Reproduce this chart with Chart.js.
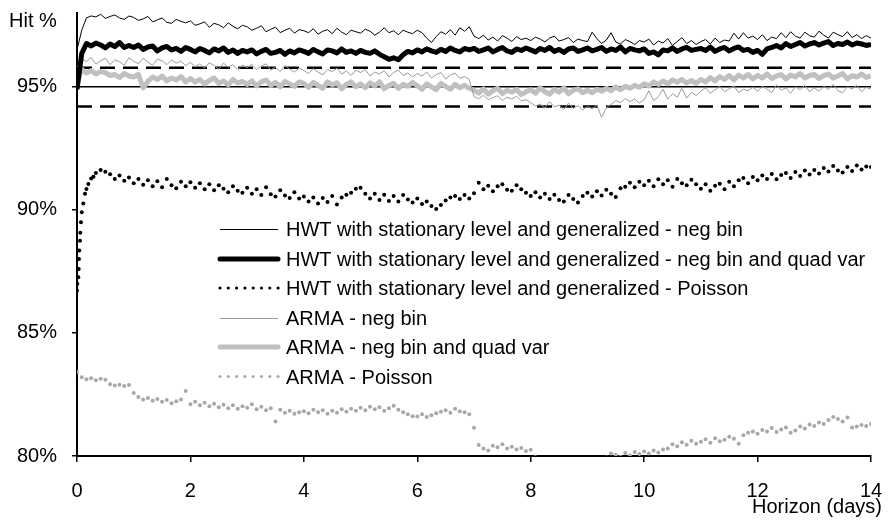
<!DOCTYPE html>
<html>
<head>
<meta charset="utf-8">
<script src="https://cdn.jsdelivr.net/npm/chart.js@4.4.1/dist/chart.umd.min.js"></script>
<style>
  html, body { margin: 0; padding: 0; background: #fff; }
  #wrap { width: 895px; height: 522px; position: relative; }
</style>
</head>
<body>
<div id="wrap"><canvas id="hitChart"></canvas></div>
<script>
// horizon grid: two-hour steps from 0 to 14 days
var horizon = [];
for (var i = 0; i <= 168; i++) horizon.push(i / 12);

var xTicks = [0, 2, 4, 6, 8, 10, 12, 14];
var yTicks = [80, 85, 90, 95];

// reference lines (nominal 95% and the band around it)
var refDays = [0, 14];
var nominal = [95, 95];
var upperBand = [95.78, 95.78];
var lowerBand = [94.2, 94.2];

// HWT with stationary level and generalized - neg bin
var hwtNb = [
  96.5, 97.3, 97.8, 97.88, 97.84, 97.95, 97.78, 97.86, 97.92, 97.8, 97.74, 97.88,
  97.82, 97.7, 97.76, 97.86, 97.64, 97.72, 97.8, 97.62, 97.58, 97.74, 97.66, 97.6,
  97.68, 97.5, 97.56, 97.64, 97.42, 97.58, 97.52, 97.4, 97.6, 97.46, 97.36, 97.5,
  97.44, 97.3, 97.38, 97.48, 97.24, 97.34, 97.42, 97.2, 97.3, 97.38, 97.18, 97.32,
  97.28, 97.2, 97.36, 97.14, 97.26, 97.32, 97.16, 97.38, 97.22, 97.12, 97.3, 97.24,
  97.18, 97.34, 97.26, 97.1, 97.22, 97.4, 97.2, 97.28, 97.12, 97.3, 97.22, 97.16,
  97.3, 97.2, 96.98, 96.8, 97.04, 97.24, 97.14, 97.32, 97.1, 97.4, 97.26, 97.44,
  97.06, 96.96, 97.1, 96.9, 97.02, 96.86, 97.08, 96.98, 96.84, 97.04, 96.92, 96.98,
  96.88, 97.02, 96.94, 96.82, 96.98, 97.06, 96.86, 96.92, 97.0, 96.8, 96.94, 96.88,
  96.84, 97.22, 96.96, 96.76, 96.9, 97.2, 96.82, 96.74, 96.92, 96.84, 96.72, 96.88,
  96.82, 96.94, 96.7, 96.86, 96.78, 96.96, 96.68, 96.84, 97.0, 96.76, 96.88, 96.72,
  96.84, 96.92, 96.74, 96.98, 96.8, 96.9, 96.86, 97.18, 96.94, 97.2, 96.98, 97.06,
  96.92, 97.12, 96.88, 97.02, 96.96, 97.2, 97.0, 97.24, 97.06, 96.98, 97.22, 97.08,
  97.02, 97.26, 97.1, 96.98, 97.22, 97.12, 97.04, 97.24, 97.0, 97.12, 96.96, 97.08,
  96.98
];

// HWT with stationary level and generalized - neg bin and quad var
var hwtNbQv = [
  94.9, 96.35, 96.76, 96.66, 96.78, 96.7, 96.58, 96.74, 96.64, 96.8, 96.6, 96.68,
  96.6, 96.7, 96.52, 96.62, 96.66, 96.46, 96.58, 96.64, 96.5, 96.56, 96.44, 96.6,
  96.52, 96.42, 96.56, 96.48, 96.38, 96.54, 96.46, 96.58, 96.4, 96.5, 96.36, 96.48,
  96.42, 96.5, 96.34, 96.44, 96.52, 96.36, 96.4, 96.48, 96.32, 96.46, 96.38, 96.5,
  96.44, 96.36, 96.52, 96.42, 96.34, 96.5, 96.46, 96.38, 96.54, 96.4, 96.46, 96.36,
  96.48, 96.4, 96.36, 96.46, 96.32, 96.22, 96.12, 96.18, 96.1, 96.3, 96.44, 96.38,
  96.5, 96.42, 96.54, 96.46, 96.4, 96.52, 96.44, 96.58, 96.48, 96.42, 96.56, 96.5,
  96.56, 96.44, 96.5, 96.58, 96.42, 96.52, 96.6, 96.46, 96.4, 96.54, 96.48, 96.58,
  96.5, 96.42, 96.56, 96.48, 96.6, 96.44, 96.52, 96.4, 96.54, 96.58, 96.44, 96.5,
  96.58, 96.46, 96.52, 96.6, 96.44, 96.54, 96.48, 96.62, 96.42, 96.56, 96.5, 96.46,
  96.54, 96.36, 96.42, 96.3, 96.5, 96.46, 96.58, 96.44, 96.54, 96.6, 96.48, 96.52,
  96.56, 96.48, 96.62, 96.44, 96.54, 96.6, 96.46, 96.56, 96.62, 96.48, 96.52, 96.4,
  96.48, 96.32, 96.54, 96.6, 96.68, 96.58, 96.76, 96.64, 96.72, 96.8, 96.66, 96.74,
  96.8, 96.7, 96.78, 96.84, 96.68, 96.76, 96.72, 96.82, 96.7, 96.78, 96.74, 96.68,
  96.72
];

// HWT with stationary level and generalized - Poisson
var hwtPoisEarlyDays = [0.005, 0.023, 0.03, 0.035, 0.04, 0.053, 0.058, 0.07, 0.111, 0.141, 0.2, 0.29];
var hwtPoisEarly = [87.0, 87.26, 87.6, 88.0, 88.35, 88.75, 89.07, 89.5, 90.26, 90.66, 91.05, 91.35];
var hwtPois = [
  86.72, 89.9, 90.85, 91.28, 91.5, 91.62, 91.55, 91.45, 91.26, 91.4, 91.18, 91.32,
  91.08, 91.26, 91.02, 91.2, 90.96, 91.16, 90.92, 91.26, 91.0, 90.88, 91.14, 90.96,
  91.12, 90.9, 91.08, 90.84, 91.04, 90.8, 91.0, 90.86, 90.72, 90.96, 90.78, 90.7,
  90.9, 90.66, 90.84, 90.6, 90.92, 90.64, 90.54, 90.8, 90.58, 90.48, 90.72, 90.46,
  90.54, 90.34, 90.5, 90.26, 90.48, 90.32, 90.56, 90.22, 90.5, 90.62, 90.7, 90.86,
  90.9, 90.66, 90.46, 90.66, 90.4, 90.62, 90.36, 90.56, 90.34, 90.6, 90.42, 90.3,
  90.46, 90.24, 90.34, 90.16, 90.04, 90.2, 90.38, 90.5, 90.56, 90.44, 90.6, 90.46,
  90.68, 91.1, 90.84, 90.98, 90.76, 90.96, 91.04, 90.82, 90.78, 91.0, 90.84, 90.7,
  90.56, 90.72, 90.5, 90.66, 90.44, 90.62, 90.4, 90.34, 90.6, 90.44, 90.3, 90.56,
  90.7, 90.54, 90.76, 90.58, 90.82, 90.66, 90.52, 90.88, 90.94, 91.1, 90.92, 91.14,
  91.0, 91.18, 90.96, 91.24, 91.04, 91.2, 90.94, 91.26, 91.08, 91.0, 91.22, 91.04,
  90.86, 91.04, 90.78, 90.98, 91.06, 90.84, 91.14, 90.96, 91.2, 91.3, 91.08, 91.34,
  91.2, 91.4, 91.26, 91.46, 91.24, 91.42, 91.5, 91.3, 91.54, 91.38, 91.6, 91.44,
  91.62, 91.48, 91.7, 91.56, 91.78, 91.6, 91.52, 91.74, 91.58, 91.8, 91.64, 91.76,
  91.74
];

// ARMA - neg bin
var armaNb = [
  95.8, 96.14, 96.02, 96.2, 95.92, 96.06, 96.16, 95.9, 96.1, 96.02, 95.88, 96.18,
  96.04, 95.94, 96.16, 96.0, 95.88, 96.12, 96.06, 95.9, 96.1, 95.96, 96.04, 95.86,
  96.0, 95.82, 95.94, 95.76, 95.98, 95.86, 95.72, 95.96, 95.8, 95.9, 95.7, 95.88,
  95.78, 95.92, 95.7, 95.84, 95.94, 95.68, 95.8, 95.62, 95.86, 95.72, 95.6, 95.76,
  95.66, 95.54, 95.74, 95.6, 95.48, 95.7, 95.62, 95.76, 95.52, 95.64, 95.46, 95.68,
  95.58, 95.7, 95.44, 95.6, 95.52, 95.66, 95.4, 95.58, 95.68, 95.46, 95.56, 95.4,
  95.54, 95.44, 95.6, 95.36, 95.5, 95.58, 95.32, 95.48, 95.56, 95.34, 95.42, 95.3,
  94.6, 94.52, 94.66, 94.48, 94.56, 94.64, 94.44, 94.58, 94.5, 94.62, 94.42, 94.48,
  94.36, 94.22, 94.3, 94.14, 94.4, 94.18, 94.26, 94.08, 94.34, 94.12, 94.24, 94.06,
  94.2, 94.1, 94.26, 93.76, 94.16, 94.28, 94.44, 94.36, 94.52, 94.4, 94.5, 94.34,
  94.48, 94.84, 94.44, 94.6, 94.9, 94.5, 94.72, 94.58, 94.94, 94.54, 94.78, 94.64,
  94.82, 94.96, 94.74, 94.88, 95.02, 94.8, 94.92, 95.04, 94.76, 94.9, 94.84, 94.98,
  94.82, 95.02, 94.9, 94.76, 95.08, 94.86, 94.96, 94.74, 95.0, 94.88, 95.06, 94.8,
  94.96, 94.82, 95.02, 94.9, 95.1, 94.84, 94.76, 95.0, 94.92, 95.06, 94.8, 94.98,
  94.9
];

// ARMA - neg bin and quad var
var armaNbQv = [
  95.1, 95.72, 95.56, 95.66, 95.52, 95.62, 95.58, 95.46, 95.5, 95.38, 95.54, 95.44,
  95.4, 95.5, 94.96, 95.22, 95.4, 95.3, 95.44, 95.24, 95.36, 95.28, 95.42, 95.2,
  95.34, 95.2, 95.3, 95.12, 95.26, 95.36, 95.14, 95.24, 95.08, 95.3, 95.16, 95.22,
  95.1, 95.24, 95.04, 95.2, 95.28, 95.06, 95.18, 95.0, 95.22, 95.12, 95.02, 95.2,
  95.14, 94.98, 95.18, 95.06, 94.94, 95.2, 95.08, 95.16, 94.92, 95.1, 95.2, 95.0,
  95.12, 94.96, 95.16, 95.04, 95.2, 94.92, 95.06, 95.14, 94.94, 95.1, 95.02, 95.18,
  95.04, 94.9, 95.12, 95.0, 94.88, 95.14, 95.02, 94.9, 95.1, 94.96, 95.06, 94.94,
  94.86, 94.74, 94.92, 94.7, 94.84, 94.94, 94.72, 94.86, 94.78, 94.9, 94.68, 94.8,
  94.88, 94.74, 94.96, 94.8, 94.7, 94.9, 94.78, 94.96, 94.72, 94.86, 94.92, 94.76,
  94.86, 94.76, 94.9, 94.82, 94.94, 94.84, 95.0, 94.88, 95.02, 94.94, 95.06, 94.98,
  95.12, 95.04, 95.2, 95.1, 95.24, 95.12, 95.28, 95.18, 95.3, 95.16, 95.26, 95.14,
  95.3, 95.2, 95.38, 95.24, 95.42, 95.3, 95.46, 95.28, 95.48, 95.36, 95.5, 95.32,
  95.46, 95.36, 95.52, 95.34, 95.44, 95.5, 95.32, 95.48, 95.4, 95.54, 95.36, 95.46,
  95.5, 95.34, 95.46, 95.52, 95.36, 95.44, 95.54, 95.32, 95.46, 95.4, 95.52, 95.38,
  95.44
];

// ARMA - Poisson
var armaPois = [
  83.42, 83.2, 83.12, 83.16, 83.08, 83.14, 83.1, 82.92, 82.86, 82.9, 82.84, 82.88,
  82.56, 82.4, 82.3, 82.36, 82.24, 82.32, 82.2, 82.28, 82.14, 82.22, 82.3, 82.64,
  82.1, 82.2, 82.06, 82.16, 82.02, 82.12, 81.98, 82.08, 81.94, 82.06, 81.92, 82.02,
  81.96, 82.1, 81.9, 82.0, 81.86, 81.94, 81.4, 81.88, 81.76, 81.84, 81.72, 81.78,
  81.82, 81.74, 81.88, 81.78, 81.86, 81.72, 81.84, 81.76, 81.9, 81.8, 81.92, 81.84,
  81.96, 81.86, 82.0, 81.9, 81.98, 81.84, 81.94, 82.04, 81.88, 81.78, 81.7, 81.62,
  81.6, 81.7, 81.58, 81.66, 81.74, 81.8, 81.86, 81.76, 81.92, 81.82, 81.78, 81.7,
  81.15, 80.45, 80.3, 80.22, 80.42, 80.36, 80.48, 80.3, 80.38, 80.26, 80.32, 80.2,
  80.25, 79.95, 79.7, 79.55, 79.5, 79.62, 79.75, 79.9, 79.6, 79.5, 79.7, 79.92,
  79.7, 79.6, 79.5, 79.68, 79.94, 80.1, 80.04, 79.96, 80.12, 80.02, 80.16, 80.08,
  80.18, 80.1, 80.22, 80.14, 80.26, 80.3, 80.48, 80.4, 80.56, 80.46, 80.62, 80.5,
  80.58, 80.68, 80.54, 80.72, 80.6, 80.66, 80.78, 80.7, 80.5, 80.84, 80.94, 81.0,
  80.9, 81.06, 81.0, 81.14, 80.98, 81.08, 81.16, 80.94, 81.04, 81.2, 81.12, 81.28,
  81.22, 81.36, 81.3, 81.46, 81.58, 81.5, 81.4, 81.56, 81.16, 81.2, 81.26, 81.22,
  81.3
];

var FONT_FAMILY = "'Liberation Sans', Arial, sans-serif";

function pairs(xs, ys) {
  return ys.map(function (y, i) { return { x: xs[i], y: y }; });
}

function lineSet(label, xs, ys, color, width, dash) {
  return {
    label: label,
    data: pairs(xs, ys),
    borderColor: color,
    borderWidth: width,
    borderDash: dash || [],
    pointRadius: 0,
    tension: 0,
    fill: false,
    borderJoinStyle: 'round'
  };
}

function dotSet(label, data, color) {
  return {
    label: label,
    data: data,
    showLine: false,
    pointRadius: 2,
    pointBorderWidth: 0,
    pointBackgroundColor: color,
    borderColor: color,
    dotted: true
  };
}

var datasets = [
  lineSet('HWT with stationary level and generalized - neg bin', horizon, hwtNb, '#000000', 1),
  lineSet('HWT with stationary level and generalized - neg bin and quad var', horizon, hwtNbQv, '#000000', 5),
  dotSet('HWT with stationary level and generalized - Poisson',
    pairs(hwtPoisEarlyDays, hwtPoisEarly).concat(pairs(horizon, hwtPois)), '#000000'),
  lineSet('ARMA - neg bin', horizon, armaNb, '#9a9a9a', 1),
  lineSet('ARMA - neg bin and quad var', horizon, armaNbQv, '#c0c0c0', 5),
  dotSet('ARMA - Poisson', pairs(horizon, armaPois), '#a8a8a8')
];

var refNominal = lineSet('', refDays, nominal, '#000000', 1.5);
var refUpper = lineSet('', refDays, upperBand, '#000000', 2.5, [15, 8]);
var refLower = lineSet('', refDays, lowerBand, '#000000', 2.5, [15, 8]);
[refNominal, refUpper, refLower].forEach(function (d) { d.order = 5; });
datasets = datasets.concat([refNominal, refUpper, refLower]);

// legend inside the plot plus the two axis captions
var captionsPlugin = {
  id: 'captions',
  afterDraw: function (chart) {
    var ctx = chart.ctx;
    ctx.save();
    ctx.font = '20px ' + FONT_FAMILY;
    ctx.fillStyle = '#000';
    ctx.textBaseline = 'alphabetic';

    ctx.textAlign = 'left';
    ctx.fillText('Hit %', 9, 27);
    ctx.textAlign = 'right';
    ctx.fillText('Horizon (days)', 882, 513);

    ctx.textAlign = 'left';
    var rowY = 229;
    chart.data.datasets.forEach(function (ds) {
      if (!ds.label) return;
      if (ds.dotted) {
        ctx.fillStyle = ds.pointBackgroundColor;
        for (var k = 0; k < 8; k++) {
          ctx.beginPath();
          ctx.arc(220 + k * 8.3, rowY, 1.6, 0, Math.PI * 2);
          ctx.fill();
        }
      } else {
        ctx.strokeStyle = ds.borderColor;
        ctx.lineWidth = ds.borderWidth;
        ctx.lineCap = ds.borderWidth > 2 ? 'round' : 'butt';
        ctx.beginPath();
        ctx.moveTo(220, Math.round(rowY) + (ds.borderWidth === 1 ? 0.5 : 0));
        ctx.lineTo(278, Math.round(rowY) + (ds.borderWidth === 1 ? 0.5 : 0));
        ctx.stroke();
      }
      ctx.fillStyle = '#000';
      ctx.fillText(ds.label, 286, rowY + 7);
      rowY += 29.5;
    });
    ctx.restore();
  }
};

Chart.defaults.font.family = FONT_FAMILY;
Chart.defaults.font.size = 20;
Chart.defaults.color = '#000';

var ctx = document.getElementById('hitChart').getContext('2d');
var hitChart = new Chart(ctx, {
  type: 'line',
  data: { datasets: datasets },
  options: {
    responsive: true,
    maintainAspectRatio: false,
    animation: false,
    devicePixelRatio: 1,
    layout: { padding: { left: 0, right: 24, top: 13, bottom: 0 } },
    plugins: {
      legend: { display: false },
      tooltip: { enabled: false }
    },
    scales: {
      x: {
        type: 'linear',
        min: 0,
        max: 14,
        afterBuildTicks: function (scale) {
          scale.ticks = xTicks.map(function (v) { return { value: v }; });
        },
        afterFit: function (scale) {
          scale.height = 66;
          scale.paddingLeft = 0;
          scale.paddingRight = 0;
        },
        ticks: { padding: 17, maxRotation: 0, font: { size: 20 } },
        grid: { drawOnChartArea: false, color: '#000', tickLength: 6, lineWidth: 1.5 },
        border: { color: '#000', width: 2 }
      },
      y: {
        type: 'linear',
        min: 80,
        max: 98,
        afterBuildTicks: function (scale) {
          scale.ticks = yTicks.map(function (v) { return { value: v }; });
        },
        afterFit: function (scale) {
          scale.width = 77;
          scale.paddingTop = 0;
          scale.paddingBottom = 0;
        },
        ticks: {
          padding: 15,
          font: { size: 20 },
          callback: function (v) { return v + '%'; }
        },
        grid: { drawOnChartArea: false, color: '#000', tickLength: 5, lineWidth: 1.5 },
        border: { color: '#000', width: 2 }
      }
    }
  },
  plugins: [captionsPlugin]
});
</script>
</body>
</html>
